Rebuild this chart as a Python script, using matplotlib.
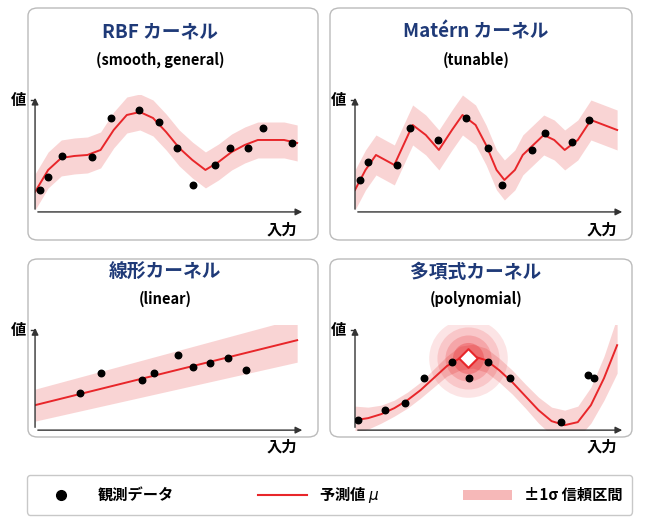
import numpy as np
import matplotlib.pyplot as plt
from matplotlib.patches import FancyBboxPatch, Patch
from matplotlib.lines import Line2D

plt.rcParams['font.family'] = ['Noto Sans CJK JP', 'DejaVu Sans']

RED = '#e8262a'
BAND = '#f6b8b8'
NAVY = '#1f3a78'


def draw_panel(fig, rect, ylim, curve_x, curve_y, band, pts_x, pts_y, ytick):
    ax = fig.add_axes(rect)
    ax.patch.set_alpha(0)
    ax.fill_between(curve_x, np.array(curve_y) - np.array(band), np.array(curve_y) + np.array(band),
                    color=BAND, alpha=0.6, lw=0)
    ax.plot(curve_x, curve_y, color=RED, lw=1.4)
    ax.scatter(pts_x, pts_y, s=22, color='black', zorder=5)
    ax.set_xlim(0, 10.3)
    ax.set_ylim(*ylim)
    for s in ax.spines.values():
        s.set_visible(False)
    ax.set_xticks([])
    ax.set_yticks([])
    ax.annotate('', xy=(1.0, 0), xytext=(0, 0), xycoords='axes fraction',
                arrowprops=dict(arrowstyle='-|>', color='#333333', lw=1.0))
    ax.annotate('', xy=(0, 1.0), xytext=(0, 0), xycoords='axes fraction',
                arrowprops=dict(arrowstyle='-|>', color='#333333', lw=1.0))
    ax.plot([-0.15, 0], [ytick, ytick], color='#333333', lw=1.0, clip_on=False)
    ax.text(-0.35, ytick, '値', ha='right', va='center', fontsize=11, fontweight='bold')
    ax.text(0.97, -0.08, '入力', transform=ax.transAxes, ha='right', va='top',
            fontsize=11, fontweight='bold')
    return ax


def main():
    fig = plt.figure(figsize=(6.49, 5.22), dpi=100)

    # panel boxes (left, bottom, width, height in figure px)
    boxes = [(28, 282, 290, 232), (330, 282, 302, 232), (28, 85, 290, 178), (330, 85, 302, 178)]
    for (x, y, w, h) in boxes:
        fig.patches.append(FancyBboxPatch((x / 649, y / 522), w / 649, h / 522,
                                          boxstyle='round,pad=0,rounding_size=0.015',
                                          transform=fig.transFigure, fc='none', ec='#bbbbbb',
                                          lw=1.0, zorder=-5))

    titles = [('RBF カーネル', '(smooth, general)', 160, 32, 60),
              ('Matérn カーネル', '(tunable)', 476, 32, 60),
              ('線形カーネル', '(linear)', 165, 272, 299),
              ('多項式カーネル', '(polynomial)', 476, 272, 299)]
    for t, sub, x, y1, y2 in titles:
        fig.text(x / 649, 1 - y1 / 522, t, ha='center', va='center', fontsize=13.5,
                 fontweight='bold', color=NAVY)
        fig.text(x / 649, 1 - y2 / 522, sub, ha='center', va='center', fontsize=10.5,
                 fontweight='bold')

    xs = np.arange(0, 10.01, 0.5)

    # RBF
    rbf_y = [0.08, 0.3, 0.42, 0.44, 0.45, 0.5, 0.7, 0.85, 0.88, 0.82, 0.68, 0.52, 0.4, 0.3,
             0.38, 0.48, 0.55, 0.6, 0.6, 0.6, 0.57]
    draw_panel(fig, [0.054, 0.594, 0.416, 0.224], (-0.12, 1.05), xs, rbf_y, [0.18] * 21,
               [0.19, 0.49, 1.02, 2.19, 2.91, 3.96, 4.72, 5.4, 6.04, 6.87, 7.43, 8.11, 8.68, 9.81],
               [0.10, 0.23, 0.44, 0.43, 0.82, 0.90, 0.78, 0.52, 0.15, 0.35, 0.52, 0.52, 0.72, 0.57], 1.0)

    # Matern
    mx = [0, 0.4, 0.8, 1.5, 2.2, 2.7, 3.2, 3.7, 4.1, 4.6, 5.0, 5.4, 5.7, 6.1, 6.4, 6.8, 7.2,
          7.6, 8.0, 8.5, 9.0, 9.5, 10.0]
    my = [0.1, 0.3, 0.45, 0.35, 0.75, 0.65, 0.5, 0.7, 0.85, 0.75, 0.55, 0.3, 0.2, 0.3, 0.45,
          0.55, 0.65, 0.6, 0.5, 0.6, 0.8, 0.75, 0.7]
    draw_panel(fig, [0.547, 0.594, 0.416, 0.224], (-0.12, 1.05), mx, my, [0.2] * len(mx),
               [0.19, 0.49, 1.6, 2.11, 3.17, 4.23, 5.06, 5.62, 6.75, 7.25, 8.26, 8.94],
               [0.2, 0.38, 0.35, 0.72, 0.6, 0.82, 0.52, 0.15, 0.5, 0.67, 0.58, 0.8], 1.0)

    # linear
    lx = [0, 10]
    ly = [0.15, 0.8]
    draw_panel(fig, [0.054, 0.176, 0.416, 0.201], (-0.1, 0.95), lx, ly, [0.16, 0.22],
               [1.7, 2.53, 4.08, 4.53, 5.47, 6.04, 6.68, 7.36, 8.04],
               [0.27, 0.47, 0.4, 0.47, 0.65, 0.53, 0.57, 0.62, 0.5], 0.9)

    # polynomial
    py = [0.0, 0.02, 0.06, 0.12, 0.2, 0.3, 0.42, 0.54, 0.62, 0.64, 0.6, 0.5, 0.38, 0.24,
          0.1, -0.01, -0.05, -0.02, 0.15, 0.42, 0.75]
    pband = [0.14, 0.11, 0.09, 0.08, 0.08, 0.08, 0.09, 0.1, 0.12, 0.12, 0.12, 0.12, 0.12,
             0.12, 0.13, 0.14, 0.15, 0.16, 0.18, 0.22, 0.28]
    ax = draw_panel(fig, [0.547, 0.176, 0.416, 0.201], (-0.1, 0.95), xs, py, pband,
                    [0.11, 1.13, 1.89, 2.64, 3.7, 4.34, 5.09, 5.92, 7.85, 8.87, 9.13],
                    [0, 0.1, 0.17, 0.42, 0.58, 0.42, 0.58, 0.42, -0.02, 0.45, 0.42], 0.9)
    for s, a in [(3200, 0.12), (2000, 0.15), (1100, 0.2), (500, 0.3)]:
        ax.scatter([4.3], [0.62], s=s, color=RED, alpha=a, lw=0, zorder=3)
    ax.scatter([4.3], [0.62], s=90, marker='D', facecolor='white', edgecolor=RED, lw=1.5, zorder=6)

    # legend
    handles = [Line2D([], [], marker='o', color='black', ls='', markersize=7),
               Line2D([], [], color=RED, lw=1.5),
               Patch(facecolor=BAND, edgecolor='none')]
    leg = fig.legend(handles, ['観測データ', '予測値 $\\mu$', '±1σ 信頼区間'], loc='center',
                     bbox_to_anchor=(0.508, 0.052), ncol=3, frameon=True,
                     fancybox=True, columnspacing=5.5, handlelength=3.2,
                     borderpad=0.6, prop={'weight': 'bold', 'size': 11})
    leg.get_frame().set_edgecolor('#bbbbbb')

    plt.savefig('out.png', dpi=100)
    plt.close()


if __name__ == '__main__':
    main()
